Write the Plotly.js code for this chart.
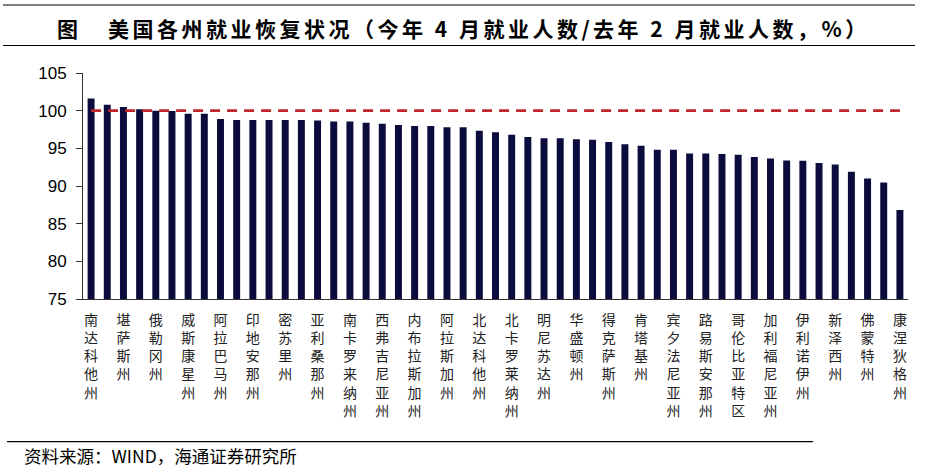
<!DOCTYPE html>
<html>
<head>
<meta charset="utf-8">
<script src="https://cdn.plot.ly/plotly-3.0.1.min.js"></script>
<style>
html,body{margin:0;padding:0;background:#fff;}
#chart{width:926px;height:476px;}
</style>
</head>
<body>
<div id="chart"></div>
<script>
// 51 bars (50 states + DC), sorted descending; only every other bar is labelled in the source
const states = [
  "南达科他州","（未标注2）","堪萨斯州","（未标注4）","俄勒冈州","（未标注6）","威斯康星州","（未标注8）",
  "阿拉巴马州","（未标注10）","印地安那州","（未标注12）","密苏里州","（未标注14）","亚利桑那州","（未标注16）",
  "南卡罗来纳州","（未标注18）","西弗吉尼亚州","（未标注20）","内布拉斯加州","（未标注22）","阿拉斯加州","（未标注24）",
  "北达科他州","（未标注26）","北卡罗莱纳州","（未标注28）","明尼苏达州","（未标注30）","华盛顿州","（未标注32）",
  "得克萨斯州","（未标注34）","肯塔基州","（未标注36）","宾夕法尼亚州","（未标注38）","路易斯安那州","（未标注40）",
  "哥伦比亚特区","（未标注42）","加利福尼亚州","（未标注44）","伊利诺伊州","（未标注46）","新泽西州","（未标注48）",
  "佛蒙特州","（未标注50）","康涅狄格州"
];
const ratio = [
  101.6,100.8,100.5,100.2,100.0,99.95,99.6,99.6,
  98.9,98.75,98.75,98.75,98.75,98.75,98.7,98.55,
  98.55,98.4,98.25,98.1,97.95,97.95,97.8,97.8,
  97.35,97.15,96.8,96.5,96.35,96.35,96.2,96.15,
  95.85,95.55,95.35,94.8,94.8,94.3,94.3,94.25,
  94.15,93.85,93.65,93.4,93.35,93.05,92.85,91.9,
  91.0,90.45,86.8
];
const labelledStates = states.filter(s => !s.startsWith("（未标注"));
const refLevel = 100;
const yTicks = [75,80,85,90,95,100,105];
const titleText = "美国各州就业恢复状况（今年 4 月就业人数/去年 2 月就业人数，%）";

const bars = {
  type: "bar",
  x: states,
  y: ratio,
  marker: {color: "#0b0b3d", line: {width: 0}},
  hoverinfo: "x+y",
  showlegend: false
};
const refLine = {
  type: "scatter",
  mode: "lines",
  x: states,
  y: states.map(() => refLevel),
  line: {color: "#c0272d", width: 2.6, dash: "10px,7px"},
  hoverinfo: "skip",
  showlegend: false
};

// pixel helpers for paper coords (plot area x 83..908, y 73..299)
const L = 83, R = 908, T = 73, B = 299;
const px = v => (v - L) / (R - L);
const py = v => (B - v) / (B - T);

const layout = {
  width: 926, height: 476,
  margin: {l: L, r: 926 - R, t: T, b: 476 - B, pad: 0},
  paper_bgcolor: "#fff",
  plot_bgcolor: "#fff",
  bargap: 0.57,
  xaxis: {
    type: "category",
    range: [-0.5, states.length - 0.5],
    tickvals: labelledStates,
    ticktext: labelledStates.map(s => s.split("").join("<br>")),
    tickangle: 0,
    ticks: "",
    ticklabelstandoff: 8,
    tickfont: {family: "Noto Sans CJK SC", size: 14, color: "#222"},
    showline: true, linecolor: "#333", linewidth: 1,
    showgrid: false, zeroline: false, fixedrange: true
  },
  yaxis: {
    range: [75, 105],
    tickvals: yTicks,
    ticks: "outside", ticklen: 6, tickcolor: "#333", tickwidth: 1,
    ticklabelstandoff: 6,
    tickfont: {family: "Liberation Sans, Arial, sans-serif", size: 17, color: "#000"},
    showline: true, linecolor: "#333", linewidth: 1,
    showgrid: false, zeroline: false, fixedrange: true
  },
  shapes: [
    {type: "line", xref: "paper", yref: "paper", x0: px(3), x1: px(915), y0: py(5), y1: py(5), line: {color: "#000", width: 1.2}},
    {type: "line", xref: "paper", yref: "paper", x0: px(3), x1: px(915), y0: py(45.5), y1: py(45.5), line: {color: "#000", width: 1.2}},
    {type: "line", xref: "paper", yref: "paper", x0: px(7), x1: px(813), y0: py(441.7), y1: py(441.7), line: {color: "#000", width: 1.2}}
  ],
  annotations: [
    {xref: "paper", yref: "paper", x: px(55), y: py(28), xanchor: "left", yanchor: "middle", showarrow: false,
     text: "<b>图</b>", font: {family: "Noto Sans CJK SC", size: 21, color: "#000"}},
    {xref: "paper", yref: "paper", x: px(106), y: py(28), xanchor: "left", yanchor: "middle", showarrow: false,
     text: "<b>" + titleText.split("").join("\u2006") + "</b>",
     font: {family: "Noto Sans CJK SC", size: 21, color: "#000"}},
    {xref: "paper", yref: "paper", x: px(22), y: py(455), xanchor: "left", yanchor: "middle", showarrow: false,
     text: "资料来源：WIND，海通证券研究所",
     font: {family: "Noto Sans CJK SC", size: 17.5, color: "#000"}}
  ]
};

Plotly.newPlot("chart", [bars, refLine], layout, {displayModeBar: false, staticPlot: true});
</script>
</body>
</html>
